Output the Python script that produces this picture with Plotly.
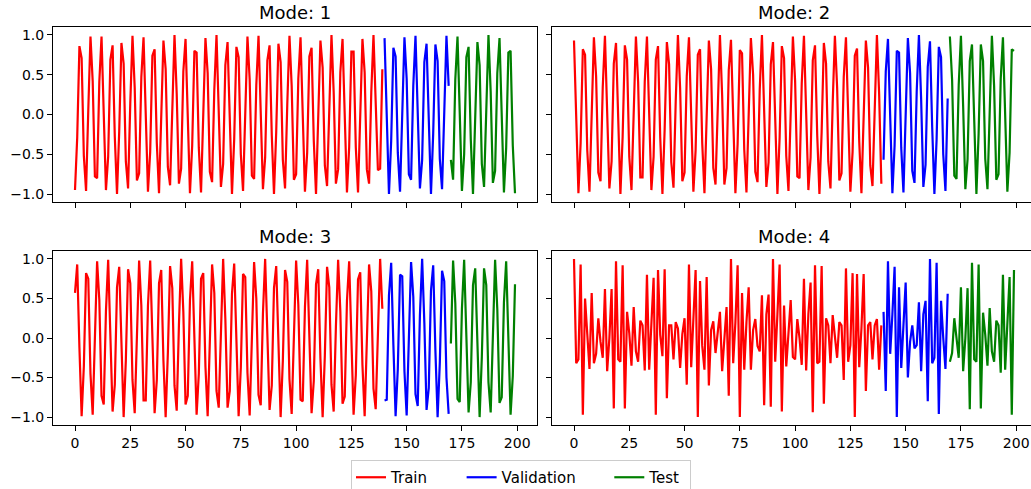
import plotly.graph_objects as go

# ---- data ----
TRAIN_END = 140   # first validation index
VAL_END = 170     # first test index

mode1 = [
-0.95,-0.29,0.86,0.71,-0.52,-0.96,0.05,0.98,0.42,-0.78,
-0.80,0.41,0.98,0.07,-0.95,-0.53,0.69,0.87,-0.28,-1.00,
-0.21,0.90,0.64,-0.59,-0.93,0.14,0.99,0.34,-0.83,-0.74,
0.47,0.97,0.00,-0.97,-0.47,0.74,0.82,-0.36,-0.99,-0.12,
0.93,0.57,-0.66,-0.89,0.22,1.00,0.26,-0.87,-0.68,0.54,
0.95,-0.09,-0.99,-0.39,0.80,0.78,-0.42,-0.98,-0.05,0.96,
0.52,-0.72,-0.85,0.31,1.00,0.17,-0.91,-0.62,0.62,0.91,
-0.17,-1.00,-0.31,0.85,0.72,-0.50,-0.96,0.03,0.98,0.44,
-0.77,-0.81,0.37,0.99,0.10,-0.94,-0.54,0.68,0.87,-0.26,
-1.00,-0.22,0.89,0.66,-0.57,-0.93,0.12,0.99,0.36,-0.82,
-0.75,0.45,0.97,0.02,-0.97,-0.48,0.73,0.84,-0.33,-1.00,
-0.16,0.93,0.59,-0.64,-0.90,0.21,1.00,0.28,-0.87,-0.69,
0.53,0.95,-0.07,-0.98,-0.41,0.79,0.79,-0.41,-0.98,-0.07,
0.95,0.53,-0.69,-0.87,0.28,1.00,0.19,-0.70,-0.68,0.57,
0.96,-0.16,-1.00,-0.33,0.84,0.73,-0.48,-0.97,0.02,0.97,
0.45,-0.75,-0.82,0.36,0.99,0.12,-0.93,-0.57,0.66,0.89,
-0.22,-1.00,-0.24,0.88,0.67,-0.56,-0.94,0.10,0.99,0.36,
-0.57,-0.82,0.44,0.98,0.03,-0.96,-0.50,0.72,0.85,-0.31,
-1.00,-0.17,0.91,0.62,-0.62,-0.91,0.19,1.00,0.29,-0.86,
-0.71,0.52,0.96,-0.05,-0.98,-0.42,0.78,0.80,-0.39,-0.99,
]

mode2 = [
0.93,-0.12,-0.99,-0.36,0.82,0.75,-0.45,-0.97,-0.02,0.97,
0.48,-0.73,-0.84,0.34,0.99,0.14,-0.93,-0.59,0.64,0.90,
-0.21,-1.00,-0.28,0.87,0.69,-0.53,-0.95,0.07,0.98,0.41,
-0.79,-0.79,0.41,0.98,0.07,-0.95,-0.53,0.69,0.86,-0.29,
-1.00,-0.19,0.91,0.63,-0.60,-0.92,0.16,1.00,0.33,-0.84,
-0.73,0.48,0.97,-0.02,-0.97,-0.45,0.75,0.82,-0.36,-0.99,
-0.12,0.93,0.57,-0.67,-0.88,0.24,1.00,0.24,-0.88,-0.67,
0.56,0.94,-0.10,-0.99,-0.37,0.81,0.77,-0.44,-0.98,-0.03,
0.96,0.50,-0.72,-0.85,0.31,1.00,0.17,-0.91,-0.60,0.63,
0.91,-0.19,-1.00,-0.29,0.86,0.71,-0.52,-0.96,0.05,0.98,
0.42,-0.78,-0.80,0.39,0.99,0.09,-0.95,-0.54,0.68,0.87,
-0.26,-1.00,-0.22,0.90,0.64,-0.59,-0.93,0.14,0.99,0.34,
-0.83,-0.74,0.47,0.97,0.00,-0.97,-0.47,0.74,0.83,-0.34,
-0.99,-0.14,0.93,0.59,-0.64,-0.90,0.21,1.00,0.26,-0.87,
-0.57,0.54,0.95,-0.09,-0.99,-0.39,0.80,0.78,-0.42,-0.98,
-0.05,0.96,0.52,-0.71,-0.86,0.29,1.00,0.19,-0.91,-0.63,
0.60,0.92,-0.16,-1.00,-0.31,0.85,0.72,-0.50,-0.96,0.20,
0.98,0.44,-0.77,-0.81,0.37,0.99,0.10,-0.94,-0.56,0.67,
0.88,-0.24,-1.00,-0.24,0.88,0.67,-0.56,-0.94,0.12,0.99,
0.36,-0.82,-0.75,0.45,0.97,0.02,-0.97,-0.48,0.82,0.80,
]

mode3 = [
0.57,0.93,-0.12,-0.99,-0.36,0.82,0.75,-0.45,-0.97,-0.02,
0.97,0.48,-0.73,-0.84,0.34,0.99,0.14,-0.93,-0.59,0.64,
0.90,-0.21,-1.00,-0.28,0.87,0.69,-0.53,-0.95,0.07,0.98,
0.41,-0.79,-0.79,0.41,0.98,0.07,-0.95,-0.53,0.69,0.86,
-0.29,-1.00,-0.19,0.91,0.63,-0.60,-0.92,0.16,1.00,0.33,
-0.84,-0.73,0.48,0.97,-0.02,-0.97,-0.45,0.75,0.82,-0.36,
-0.99,-0.12,0.93,0.57,-0.67,-0.88,0.24,1.00,0.24,-0.88,
-0.67,0.56,0.94,-0.10,-0.99,-0.37,0.81,0.77,-0.44,-0.98,
-0.03,0.96,0.50,-0.72,-0.85,0.31,1.00,0.17,-0.91,-0.60,
0.63,0.91,-0.19,-1.00,-0.29,0.86,0.71,-0.52,-0.96,0.05,
0.98,0.42,-0.78,-0.80,0.39,0.99,0.09,-0.95,-0.54,0.68,
0.87,-0.26,-1.00,-0.22,0.90,0.64,-0.59,-0.93,0.14,0.99,
0.34,-0.83,-0.74,0.47,0.97,0.00,-0.97,-0.47,0.74,0.83,
-0.34,-0.99,-0.14,0.93,0.59,-0.64,-0.90,0.21,1.00,0.37,
-0.79,-0.78,0.54,0.95,-0.09,-0.99,-0.39,0.80,0.78,-0.42,
-0.98,-0.05,0.96,0.52,-0.71,-0.86,0.29,1.00,0.19,-0.91,
-0.63,0.60,0.92,-0.16,-1.00,-0.31,0.85,0.72,-0.50,-0.96,
-0.07,0.98,0.44,-0.77,-0.81,0.37,0.99,0.10,-0.94,-0.56,
0.67,0.88,-0.24,-1.00,-0.24,0.88,0.67,-0.56,-0.94,0.12,
0.99,0.36,-0.82,-0.75,0.45,0.97,0.02,-0.97,-0.48,0.68,
]

mode4 = [
1.00,-0.32,-0.27,0.93,-0.97,0.50,0.05,-0.39,0.57,-0.32,
-0.20,0.25,-0.05,-0.25,0.62,-0.42,0.00,0.62,-0.89,0.97,
-0.27,-0.30,0.92,-0.89,0.33,0.06,-0.35,0.39,-0.17,-0.30,
0.22,0.16,-0.41,0.80,-0.40,0.20,0.76,-0.97,0.86,0.04,
-0.23,0.87,-0.76,0.16,0.16,-0.27,0.20,0.12,-0.38,0.05,
0.25,-0.59,0.93,-0.37,0.20,0.86,-1.00,0.72,-0.10,-0.40,
0.77,-0.60,0.10,0.21,-0.19,0.05,0.33,-0.42,0.00,0.39,
-0.73,1.00,-0.32,0.20,0.92,-1.00,0.57,-0.40,0.20,0.64,
-0.40,0.10,0.24,-0.10,-0.17,0.54,-0.85,0.30,0.55,-0.87,
1.00,-0.30,0.30,0.93,-0.93,0.41,-0.36,0.10,0.48,-0.24,
-0.27,0.24,0.00,-0.34,0.75,-0.41,0.30,0.70,-0.94,0.92,
-0.32,-0.30,0.91,-0.83,0.25,0.16,-0.32,0.29,0.04,-0.25,
0.20,0.16,-0.53,0.88,-0.30,-0.09,0.82,-1.00,0.81,-0.37,
0.12,0.81,-0.67,0.16,0.20,-0.27,0.16,0.24,-0.40,0.16,
0.33,-0.67,0.97,-0.20,0.30,0.90,-1.00,0.64,-0.38,0.20,
0.70,-0.50,-0.05,0.16,-0.13,-0.09,0.45,-0.42,0.30,0.47,
-0.80,1.00,-0.32,-0.25,0.95,-0.96,0.47,0.00,-0.39,0.56,
-0.30,-0.19,0.25,-0.05,-0.25,0.64,-0.42,0.00,0.63,-0.90,
0.95,-0.27,-0.30,0.93,-0.89,0.32,0.04,-0.35,0.38,-0.17,
-0.30,0.22,0.16,-0.44,0.80,-0.40,0.20,0.77,-0.97,0.86,
]

modes = [mode1, mode2, mode3, mode4]
titles = ["Mode: 1", "Mode: 2", "Mode: 3", "Mode: 4"]
split_names = ["Train", "Validation", "Test"]
split_colors = ["#ff0000", "#0000ff", "#008000"]
x_ticks = [0, 25, 50, 75, 100, 125, 150, 175, 200]
y_ticks = [-1.0, -0.5, 0.0, 0.5, 1.0]
y_tick_text = ["\u22121.0", "\u22120.5", "0.0", "0.5", "1.0"]

# ---- layout geometry ----
W, H = 1031, 489
FONT = "DejaVu Sans"
px_per_unit = 484 / 218.9
col_px = [(53, 537), (552, 1031)]
row_px = [(27, 202), (251, 425)]
legend_pad = ["\u00a0" * 6, "\u00a0" * 6, "\u00a0"]   # spacing between legend entries

fig = go.Figure()
idx = list(range(len(mode1)))
bounds = [(0, TRAIN_END), (TRAIN_END, VAL_END), (VAL_END, len(mode1))]

for m, vals in enumerate(modes):
    ax = "" if m == 0 else str(m + 1)
    for s, (a, b) in enumerate(bounds):
        fig.add_trace(go.Scatter(
            x=idx[a:b], y=vals[a:b], mode="lines",
            line=dict(color=split_colors[s], width=2.2),
            name=split_names[s] + legend_pad[s], legendgroup=split_names[s],
            showlegend=(m == 0),
            xaxis="x" + ax, yaxis="y" + ax,
        ))

layout = dict(
    width=W, height=H, autosize=False,
    margin=dict(l=0, r=0, t=0, b=0, autoexpand=False),
    paper_bgcolor="white", plot_bgcolor="white",
    font=dict(family=FONT, size=13.5, color="black"),
    showlegend=True,
    legend=dict(
        orientation="h", x=521 / W, xanchor="center",
        y=1 - 460 / H, yanchor="top",
        bordercolor="#cccccc", borderwidth=1, bgcolor="white",
        font=dict(family=FONT, size=15, color="black"),
        itemwidth=30, tracegroupgap=0,
    ),
    annotations=[],
)

for m in range(4):
    r, c = divmod(m, 2)
    ax = "" if m == 0 else str(m + 1)
    x0p, x1p = col_px[c]
    y0p, y1p = row_px[r]
    xmin = -9.95
    xmax = xmin + (x1p - x0p) / px_per_unit
    layout["xaxis" + ax] = dict(
        domain=[x0p / W, x1p / W], range=[xmin, xmax], automargin=False,
        anchor="y" + ax, tickvals=x_ticks, ticks="outside", ticklen=5,
        tickwidth=1, tickcolor="black", showticklabels=(r == 1),
        showline=True, linecolor="black", linewidth=1, mirror=True,
        showgrid=False, zeroline=False,
        tickfont=dict(family=FONT, size=14, color="black"),
    )
    layout["yaxis" + ax] = dict(
        domain=[1 - y1p / H, 1 - y0p / H], range=[-1.1, 1.1], automargin=False,
        anchor="x" + ax, tickvals=y_ticks, ticktext=y_tick_text,
        ticks="outside", ticklen=5, tickwidth=1, tickcolor="black",
        showticklabels=(c == 0),
        showline=True, linecolor="black", linewidth=1,
        mirror=(c == 0),
        showgrid=False, zeroline=False,
        tickfont=dict(family=FONT, size=14, color="black"),
    )
    center_px = x0p + (218.9 * px_per_unit) / 2
    layout["annotations"].append(dict(
        text=titles[m], xref="paper", yref="paper",
        x=center_px / W, y=1 - y0p / H, xanchor="center", yanchor="bottom",
        yshift=2, showarrow=False,
        font=dict(family=FONT, size=18, color="black"),
    ))

fig.update_layout(**layout)
fig.write_html(
    "out.html",
    config={"displayModeBar": False},
    post_script="document.body.style.margin='0';document.body.style.overflow='hidden';",
)
